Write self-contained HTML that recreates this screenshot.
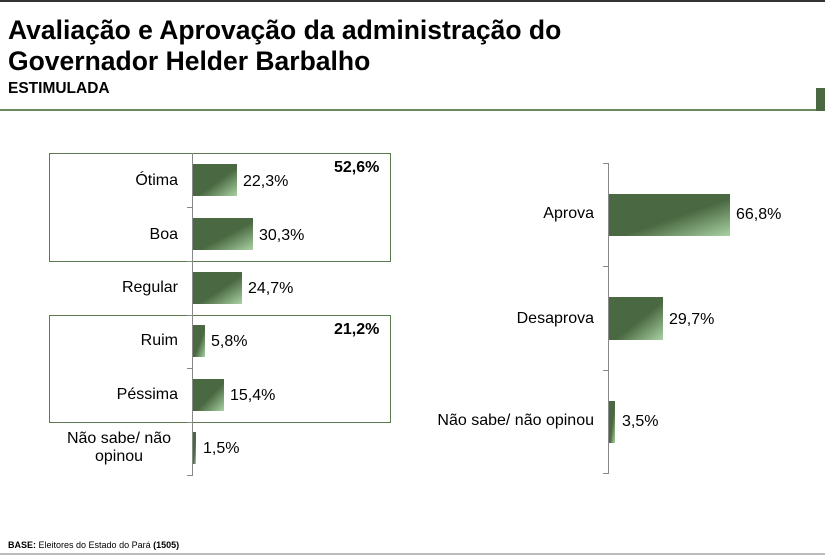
<!DOCTYPE html>
<html><head><meta charset="utf-8"><style>
body{margin:0;width:825px;height:555px;background:#fff;position:relative;overflow:hidden;font-family:"Liberation Sans",Arial,sans-serif;color:#000}
div{position:absolute}
.bar{background:linear-gradient(to bottom right,#4a6841 0%,#4a6841 55%,#a9d2a3 100%)}
.lab{font-size:16px;text-align:right;line-height:18px}
.val{font-size:16px;line-height:18px}
.tk{height:1px;width:5px;background:#888}
</style></head><body>
<div style="left:0;top:0;width:825px;height:2px;background:#333"></div>
<div style="left:8px;top:15px;font-size:26.5px;font-weight:bold;line-height:31px">Avaliação e Aprovação da administração do<br>Governador Helder Barbalho</div>
<div style="left:8px;top:80px;font-size:15.5px;font-weight:bold">ESTIMULADA</div>
<div style="left:0;top:109px;width:816px;height:2px;background:#6b8a5e"></div>
<div style="left:816px;top:88px;width:9px;height:23px;background:#4a6841"></div>

<!-- left chart -->
<div style="left:49px;top:153px;width:340px;height:107px;border:1px solid #5a7a4e"></div>
<div style="left:49px;top:315px;width:340px;height:106px;border:1px solid #5a7a4e"></div>
<div style="left:192px;top:153px;width:1px;height:323px;background:#888"></div>
<div class="tk" style="left:187px;top:207px"></div>
<div class="tk" style="left:187px;top:261px"></div>
<div class="tk" style="left:187px;top:315px"></div>
<div class="tk" style="left:187px;top:368px"></div>
<div class="tk" style="left:187px;top:422px"></div>
<div class="tk" style="left:187px;top:475px"></div>

<div class="lab" style="left:60px;width:118px;top:172px">Ótima</div>
<div class="bar" style="left:193px;top:164px;width:44px;height:32px"></div>
<div class="val" style="left:243px;top:173px">22,3%</div>
<div class="lab" style="left:60px;width:118px;top:226px">Boa</div>
<div class="bar" style="left:193px;top:218px;width:60px;height:32px"></div>
<div class="val" style="left:259px;top:227px">30,3%</div>
<div class="lab" style="left:60px;width:118px;top:279px">Regular</div>
<div class="bar" style="left:193px;top:272px;width:49px;height:32px"></div>
<div class="val" style="left:248px;top:280px">24,7%</div>
<div class="lab" style="left:60px;width:118px;top:332px">Ruim</div>
<div class="bar" style="left:193px;top:325px;width:12px;height:32px"></div>
<div class="val" style="left:211px;top:333px">5,8%</div>
<div class="lab" style="left:60px;width:118px;top:386px">Péssima</div>
<div class="bar" style="left:193px;top:379px;width:31px;height:32px"></div>
<div class="val" style="left:230px;top:387px">15,4%</div>
<div class="lab" style="left:40px;width:138px;top:430px;text-align:center;padding-left:20px;box-sizing:border-box">Não sabe/ não<br>opinou</div>
<div class="bar" style="left:193px;top:432px;width:3px;height:32px"></div>
<div class="val" style="left:203px;top:440px">1,5%</div>
<div style="left:334px;top:159px;font-size:16px;font-weight:bold">52,6%</div>
<div style="left:334px;top:321px;font-size:16px;font-weight:bold">21,2%</div>

<!-- right chart -->
<div style="left:608px;top:163px;width:1px;height:311px;background:#888"></div>
<div class="tk" style="left:603px;top:163px"></div>
<div class="tk" style="left:603px;top:266px"></div>
<div class="tk" style="left:603px;top:370px"></div>
<div class="tk" style="left:603px;top:473px"></div>
<div class="lab" style="left:400px;width:194px;top:205px">Aprova</div>
<div class="bar" style="left:609px;top:194px;width:121px;height:42px"></div>
<div class="val" style="left:736px;top:206px">66,8%</div>
<div class="lab" style="left:400px;width:194px;top:310px">Desaprova</div>
<div class="bar" style="left:609px;top:297px;width:54px;height:43px"></div>
<div class="val" style="left:669px;top:311px">29,7%</div>
<div class="lab" style="left:400px;width:194px;top:412px">Não sabe/ não opinou</div>
<div class="bar" style="left:609px;top:401px;width:6px;height:42px"></div>
<div class="val" style="left:622px;top:413px">3,5%</div>

<div style="left:8px;top:540px;font-size:9px"><b>BASE:</b> Eleitores do Estado do Pará <b>(1505)</b></div>
<div style="left:0;top:553px;width:825px;height:2px;background:#bbb"></div>
</body></html>
